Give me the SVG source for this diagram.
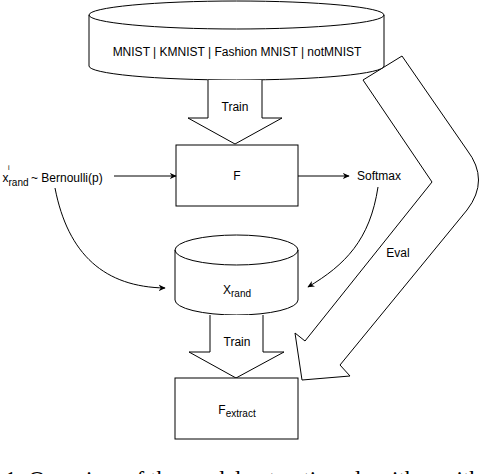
<svg xmlns="http://www.w3.org/2000/svg" width="498" height="474" viewBox="0 0 498 474">
<defs>
<marker id="ah" viewBox="0 0 10 10" refX="9" refY="5" markerWidth="7" markerHeight="7" markerUnits="userSpaceOnUse" orient="auto">
<path d="M0,0.5 L10,5 L0,9.5 L3,5 Z" fill="#000"/>
</marker>
</defs>
<style>
.s{fill:#fff;stroke:#000;stroke-width:1}
.blk{fill:#fff;stroke:#000;stroke-width:1;stroke-linejoin:miter}
.t{font-family:"Liberation Sans",Arial,Helvetica,sans-serif;font-size:12px;fill:#000}
.c{fill:none;stroke:#000;stroke-width:1}
.cap{font-family:"Liberation Serif","Times New Roman",serif;font-size:23px;fill:#000}
</style>
<rect width="498" height="474" fill="#fff"/>

<g id="eval-arrow">
<path class="blk" d="M363,80 L402,56 L467,150 Q490,180 467,210 L340,365 L350,376 L302,380 L295,333 L305,341 L432,182 Z"/>
<text class="t" x="398" y="257" text-anchor="middle">Eval</text>
</g>

<g id="datasets">
<path class="s" d="M89,15 A147.5,14 0 0 1 384,15 L384,66 A147.5,14 0 0 1 89,66 Z"/>
<path class="c" d="M89,15 A147.5,14 0 0 0 384,15"/>
<text class="t" x="237" y="56" text-anchor="middle">MNIST | KMNIST | Fashion MNIST | notMNIST</text>
</g>

<g id="train1">
<path class="blk" d="M208,80 L208,118 L188,118 L235,144 L282,118 L262,118 L262,80"/>
<text class="t" x="235" y="111" text-anchor="middle">Train</text>
</g>

<g id="F">
<rect class="s" x="176" y="145" width="122" height="61"/>
<text class="t" x="237" y="180" text-anchor="middle">F</text>
</g>

<g id="bernoulli">
<text class="t" y="182"><tspan x="2.5">x</tspan><tspan x="8" y="170" font-size="7">i</tspan><tspan x="8.5" y="186" font-size="10">rand</tspan><tspan x="31" y="182">~ Bernoulli(p)</tspan></text>
</g>

<g id="softmax">
<text class="t" x="379" y="180" text-anchor="middle">Softmax</text>
</g>

<g id="xrand">
<path class="s" d="M175,250 A61.5,15 0 0 1 298,250 L298,300 A61.5,15 0 0 1 175,300 Z"/>
<path class="c" d="M175,250 A61.5,15 0 0 0 298,250"/>
<text class="t" x="237" y="294" text-anchor="middle">X<tspan font-size="10" dy="3">rand</tspan></text>
</g>

<g id="train2">
<path class="blk" d="M210,315 L210,352 L189,352 L236,378 L284,352 L263,352 L263,315"/>
<text class="t" x="237" y="346" text-anchor="middle">Train</text>
</g>

<g id="Fextract">
<rect class="s" x="175" y="378" width="123" height="61"/>
<text class="t" x="237" y="414" text-anchor="middle">F<tspan font-size="10" dy="3">extract</tspan></text>
</g>

<g id="connectors">
<path class="c" d="M114,176 L176,176" marker-end="url(#ah)"/>
<path class="c" d="M298,176 L349,176" marker-end="url(#ah)"/>
<path class="c" d="M55,188 C68,255 105,287 165,288" marker-end="url(#ah)"/>
<path class="c" d="M378,187 C370,240 345,265 308,287" marker-end="url(#ah)"/>
</g>

<text class="cap" x="5" y="487">1: Overview of the model extraction algorithm with</text>
</svg>
